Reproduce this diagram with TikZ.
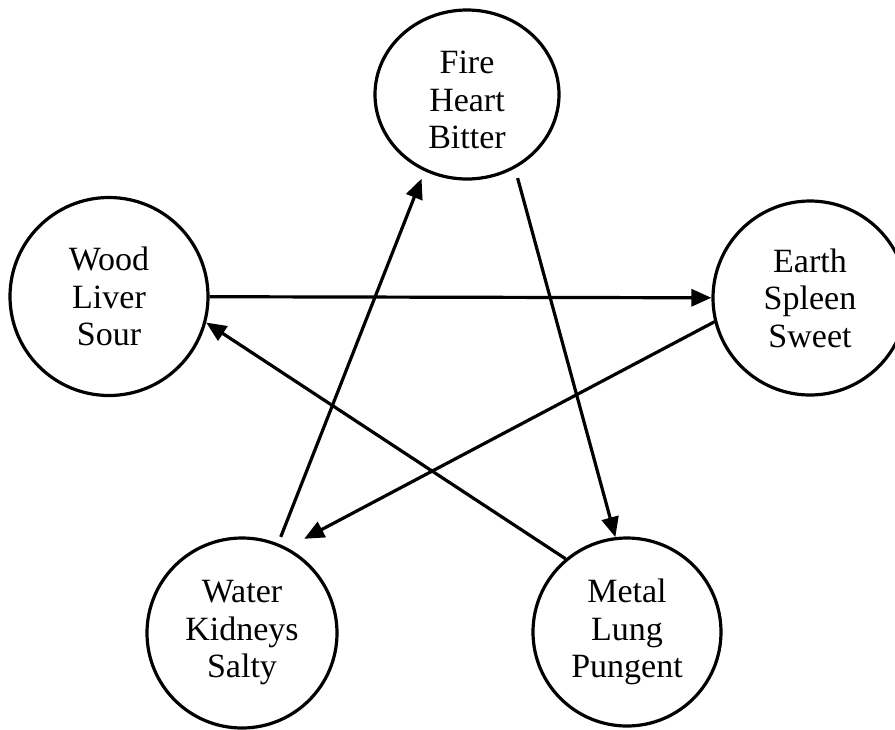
\documentclass[tikz,border=0pt]{standalone}
\usepackage{fontspec}
\setmainfont{Liberation Serif}
\usetikzlibrary{shapes.geometric,arrows.meta}
\begin{document}
\begin{tikzpicture}[x=1pt,y=-1pt,
  element/.style={draw, line width=3.2pt, circle, inner sep=0pt, align=center,
    font=\fontsize{34}{37.5}\selectfont},
  flow/.style={line width=3.2pt, -{Triangle[length=20pt,width=17pt]}}]
\useasboundingbox (0,0) rectangle (895,729);
% the five elements
\node[element, ellipse, minimum width=184pt, minimum height=169pt] (fire) at (467,94.5) {\rule{0pt}{34pt}Fire\\Heart\\Bitter};
\node[element, minimum size=198pt] (wood) at (109,296.5) {Wood\\Liver\\Sour};
\node[element, minimum size=194pt] (earth) at (810,298) {Earth\\Spleen\\Sweet};
\node[element, minimum size=190pt] (water) at (242,633) {Water\\Kidneys\\Salty};
\node[element, minimum size=188pt] (metal) at (627,632) {Metal\\Lung\\Pungent};
% the cycle of arrows
\draw[flow] (wood) -- (earth);
\draw[flow, shorten >=19pt] (earth.194.5) -- (water.62.4);
\draw[flow, shorten <=7pt, shorten >=8pt] (water.68.8) -- (fire.241.7);
\draw[flow, shorten <=10pt] (fire.303.7) -- (metal.97.4);
\draw[flow] (metal.130.6) -- (wood.345);
\end{tikzpicture}
\end{document}
